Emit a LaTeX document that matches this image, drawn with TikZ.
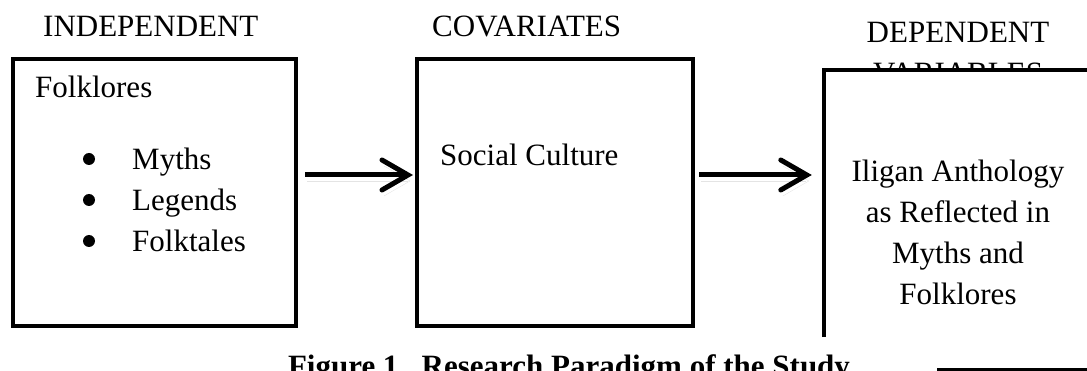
\documentclass[tikz,border=0pt]{standalone}
\usepackage{fontspec}
\setmainfont{Liberation Serif}
\usetikzlibrary{positioning}
\usetikzlibrary{arrows.meta}
\tikzset{
        textnode/.style={inner sep=0pt, font=\fontsize{31}{41}\selectfont},
        % Heading above each box
        node_head/.style={textnode, align=center},
        % Boxes
        node_box/.style={rectangle, draw=black, line width=4pt, minimum width=276pt, minimum height=267pt, inner sep=0pt},
        % Box without the right and bottom sides
        node_open/.style={rectangle, fill=white, minimum width=276pt, minimum height=267pt, inner sep=0pt},
        % Arrows between boxes
        link/.style={line width=5pt, -{Straight Barb[length=26pt, width=30pt, line cap=round]},
                preaction={draw=black!30, opacity=0.35, transform canvas={xshift=2pt, yshift=-6pt}}},
        % Caption
        node_caption/.style={textnode, font=\fontsize{31}{41}\selectfont\bfseries}
}

\begin{document}
\begin{tikzpicture}[x=1pt, y=-1pt]
            \useasboundingbox (0,0) rectangle (1087,371);
            \clip (0,0) rectangle (1087,371);
            % Headings
            \node[node_head, anchor=base west] (head_ind) at (43,37) {INDEPENDENT};
            \node[node_head, anchor=base west] (head_cov) at (432,37) {COVARIATES};
            \node[node_head, anchor=base] (head_dep) at (958,84) {DEPENDENT\\VARIABLES};
            % Boxes
            \node[node_box, minimum width=283pt] (indep) at (154.5,192.5) {};
            \node[node_box] (covar) at (555,192.5) {};
            \node[node_open] (dep) at (962,203.5) {};
            \draw[line width=4pt] (dep.south west) -- (dep.north west) -- (dep.north east);
            % Box contents
            \node[textnode, anchor=base west] (folk) at (35,98) {Folklores};
            \node[textnode, anchor=base west] (myths) at (132,170) {Myths};
            \node[textnode, anchor=base west] (legends) at (132,211) {Legends};
            \node[textnode, anchor=base west] (tales) at (132,252) {Folktales};
            \foreach \n in {myths, legends, tales}
                \fill ([xshift=-43pt, yshift=11pt]\n.base west) circle (6pt);
            \node[textnode, anchor=base west] (social) at (440,166) {Social Culture};
            \node[textnode, anchor=base, align=center] (result) at (958,305)
                {Iligan Anthology\\as Reflected in\\Myths and\\Folklores};
            % Arrows
            \draw[link] ([xshift=7pt, yshift=17.5pt]indep.east) -- ([xshift=-2pt, yshift=17.5pt]covar.west);
            \draw[link] ([xshift=4pt, yshift=17.5pt]covar.east) -- ([xshift=-12pt, yshift=28.5pt]dep.west);
            % Caption
            \node[node_caption, anchor=base] (caption) at (569,376) {Figure 1.\ \ Research Paradigm of the Study};
            \coordinate (rule_a) at (937,369);
            \coordinate (rule_b) at (1087,369);
            \draw[line width=3pt] (rule_a) -- (rule_b);
        \end{tikzpicture}
\end{document}
